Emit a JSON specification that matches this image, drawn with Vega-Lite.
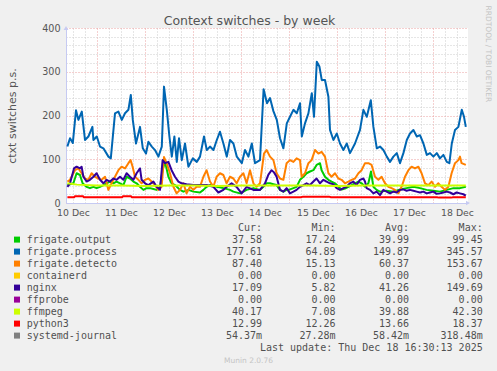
{
"$schema":"https://vega.github.io/schema/vega-lite/v6.json",
"width":402,"height":175,
"autosize":{"type":"none"},
"padding":{"left":66,"top":28,"right":29,"bottom":168},
"background":"#f0f0f0",
"config":{"view":{"fill":"#ffffff","stroke":null},"font":"DejaVu Sans"},
"title":{"text":"Context switches - by week","font":"DejaVu Sans","fontSize":12.5,"fontWeight":"normal","color":"#555555","anchor":"middle","frame":"group","dx":-17.5,"dy":26},
"datasets":{
"series":[
{"s":"frigate.output","h":9.2,"v":41},{"s":"frigate.output","h":12.2,"v":45},{"s":"frigate.output","h":13.8,"v":68},{"s":"frigate.output","h":15.5,"v":64},{"s":"frigate.output","h":16.8,"v":45},{"s":"frigate.output","h":18.8,"v":37},{"s":"frigate.output","h":20.5,"v":34},{"s":"frigate.output","h":22.2,"v":37},{"s":"frigate.output","h":23.8,"v":34},{"s":"frigate.output","h":25.5,"v":37},{"s":"frigate.output","h":27.2,"v":41},{"s":"frigate.output","h":28.8,"v":45},{"s":"frigate.output","h":30.5,"v":49},{"s":"frigate.output","h":32.2,"v":45},{"s":"frigate.output","h":33.8,"v":49},{"s":"frigate.output","h":35.5,"v":45},{"s":"frigate.output","h":37.2,"v":41},{"s":"frigate.output","h":38.8,"v":60},{"s":"frigate.output","h":40.5,"v":56},{"s":"frigate.output","h":42.2,"v":49},{"s":"frigate.output","h":43.8,"v":45},{"s":"frigate.output","h":45.5,"v":37},{"s":"frigate.output","h":47.2,"v":30},{"s":"frigate.output","h":48.8,"v":34},{"s":"frigate.output","h":50.5,"v":34},{"s":"frigate.output","h":52.2,"v":32},{"s":"frigate.output","h":53.8,"v":30},{"s":"frigate.output","h":55.5,"v":37},{"s":"frigate.output","h":56.8,"v":75},{"s":"frigate.output","h":58,"v":95},{"s":"frigate.output","h":59.7,"v":60},{"s":"frigate.output","h":61.3,"v":45},{"s":"frigate.output","h":63,"v":41},{"s":"frigate.output","h":65.5,"v":30},{"s":"frigate.output","h":67.2,"v":26},{"s":"frigate.output","h":69.7,"v":30},{"s":"frigate.output","h":72.2,"v":26},{"s":"frigate.output","h":75.5,"v":24},{"s":"frigate.output","h":77.2,"v":30},{"s":"frigate.output","h":78.8,"v":37},{"s":"frigate.output","h":80.5,"v":41},{"s":"frigate.output","h":83.8,"v":37},{"s":"frigate.output","h":87.2,"v":34},{"s":"frigate.output","h":90.5,"v":30},{"s":"frigate.output","h":92.2,"v":26},{"s":"frigate.output","h":95.5,"v":22},{"s":"frigate.output","h":97.2,"v":26},{"s":"frigate.output","h":98.8,"v":30},{"s":"frigate.output","h":102.2,"v":34},{"s":"frigate.output","h":105.5,"v":30},{"s":"frigate.output","h":107.2,"v":37},{"s":"frigate.output","h":108.8,"v":45},{"s":"frigate.output","h":110.5,"v":45},{"s":"frigate.output","h":112.2,"v":43},{"s":"frigate.output","h":113.8,"v":41},{"s":"frigate.output","h":115.5,"v":30},{"s":"frigate.output","h":117.2,"v":26},{"s":"frigate.output","h":118.8,"v":30},{"s":"frigate.output","h":120.5,"v":31},{"s":"frigate.output","h":122.2,"v":34},{"s":"frigate.output","h":123.8,"v":37},{"s":"frigate.output","h":125.5,"v":53},{"s":"frigate.output","h":127.2,"v":60},{"s":"frigate.output","h":128.8,"v":68},{"s":"frigate.output","h":130.5,"v":72},{"s":"frigate.output","h":132.2,"v":75},{"s":"frigate.output","h":133.8,"v":87},{"s":"frigate.output","h":135.5,"v":91},{"s":"frigate.output","h":136.3,"v":75},{"s":"frigate.output","h":138,"v":60},{"s":"frigate.output","h":139.7,"v":53},{"s":"frigate.output","h":141.3,"v":49},{"s":"frigate.output","h":143,"v":45},{"s":"frigate.output","h":144.7,"v":37},{"s":"frigate.output","h":146.3,"v":31},{"s":"frigate.output","h":148,"v":33},{"s":"frigate.output","h":149.7,"v":37},{"s":"frigate.output","h":151.3,"v":41},{"s":"frigate.output","h":153,"v":45},{"s":"frigate.output","h":154.7,"v":49},{"s":"frigate.output","h":156.3,"v":45},{"s":"frigate.output","h":158,"v":37},{"s":"frigate.output","h":159.7,"v":45},{"s":"frigate.output","h":161,"v":72},{"s":"frigate.output","h":162.2,"v":37},{"s":"frigate.output","h":163.8,"v":30},{"s":"frigate.output","h":165.5,"v":26},{"s":"frigate.output","h":168.8,"v":28},{"s":"frigate.output","h":172.2,"v":26},{"s":"frigate.output","h":175.5,"v":31},{"s":"frigate.output","h":178.8,"v":34},{"s":"frigate.output","h":182.2,"v":37},{"s":"frigate.output","h":185.5,"v":34},{"s":"frigate.output","h":188.8,"v":30},{"s":"frigate.output","h":192.2,"v":28},{"s":"frigate.output","h":195.5,"v":26},{"s":"frigate.output","h":198.8,"v":30},{"s":"frigate.output","h":202.2,"v":34},{"s":"frigate.output","h":205.5,"v":34},{"s":"frigate.output","h":208.4,"v":37},
{"s":"frigate.process","h":9.2,"v":129},{"s":"frigate.process","h":10.5,"v":148},{"s":"frigate.process","h":11.9,"v":137},{"s":"frigate.process","h":13.5,"v":212},{"s":"frigate.process","h":14.7,"v":190},{"s":"frigate.process","h":16.4,"v":209},{"s":"frigate.process","h":18,"v":144},{"s":"frigate.process","h":19.7,"v":152},{"s":"frigate.process","h":21.7,"v":174},{"s":"frigate.process","h":22.2,"v":144},{"s":"frigate.process","h":23.9,"v":152},{"s":"frigate.process","h":25.5,"v":129},{"s":"frigate.process","h":27.2,"v":125},{"s":"frigate.process","h":29.7,"v":106},{"s":"frigate.process","h":30.9,"v":102},{"s":"frigate.process","h":33,"v":205},{"s":"frigate.process","h":34.7,"v":209},{"s":"frigate.process","h":36.4,"v":190},{"s":"frigate.process","h":38,"v":205},{"s":"frigate.process","h":39.7,"v":213},{"s":"frigate.process","h":40.9,"v":247},{"s":"frigate.process","h":41.9,"v":190},{"s":"frigate.process","h":43.5,"v":136},{"s":"frigate.process","h":45.5,"v":174},{"s":"frigate.process","h":46.9,"v":125},{"s":"frigate.process","h":48.5,"v":113},{"s":"frigate.process","h":49.7,"v":140},{"s":"frigate.process","h":51.4,"v":129},{"s":"frigate.process","h":53,"v":121},{"s":"frigate.process","h":54.7,"v":106},{"s":"frigate.process","h":56.4,"v":129},{"s":"frigate.process","h":57.5,"v":266},{"s":"frigate.process","h":58.9,"v":213},{"s":"frigate.process","h":60.2,"v":152},{"s":"frigate.process","h":61.4,"v":106},{"s":"frigate.process","h":62.7,"v":152},{"s":"frigate.process","h":63.9,"v":94},{"s":"frigate.process","h":65,"v":148},{"s":"frigate.process","h":66.4,"v":98},{"s":"frigate.process","h":68,"v":136},{"s":"frigate.process","h":69.7,"v":83},{"s":"frigate.process","h":71.9,"v":102},{"s":"frigate.process","h":73.9,"v":94},{"s":"frigate.process","h":75.5,"v":106},{"s":"frigate.process","h":77.5,"v":152},{"s":"frigate.process","h":78.9,"v":121},{"s":"frigate.process","h":80.5,"v":129},{"s":"frigate.process","h":82.2,"v":121},{"s":"frigate.process","h":83.9,"v":144},{"s":"frigate.process","h":85.5,"v":163},{"s":"frigate.process","h":87.2,"v":136},{"s":"frigate.process","h":88.9,"v":106},{"s":"frigate.process","h":90.5,"v":144},{"s":"frigate.process","h":92.2,"v":136},{"s":"frigate.process","h":93.9,"v":106},{"s":"frigate.process","h":96.4,"v":91},{"s":"frigate.process","h":98,"v":121},{"s":"frigate.process","h":99.7,"v":106},{"s":"frigate.process","h":101.4,"v":136},{"s":"frigate.process","h":103,"v":91},{"s":"frigate.process","h":105.5,"v":98},{"s":"frigate.process","h":107.3,"v":260},{"s":"frigate.process","h":109,"v":228},{"s":"frigate.process","h":110.5,"v":240},{"s":"frigate.process","h":112.2,"v":210},{"s":"frigate.process","h":113.9,"v":190},{"s":"frigate.process","h":115.5,"v":148},{"s":"frigate.process","h":117.2,"v":125},{"s":"frigate.process","h":118.9,"v":182},{"s":"frigate.process","h":120.5,"v":197},{"s":"frigate.process","h":122.2,"v":213},{"s":"frigate.process","h":123.9,"v":205},{"s":"frigate.process","h":125.5,"v":228},{"s":"frigate.process","h":126.4,"v":152},{"s":"frigate.process","h":128,"v":182},{"s":"frigate.process","h":129.7,"v":205},{"s":"frigate.process","h":131.4,"v":251},{"s":"frigate.process","h":132.5,"v":197},{"s":"frigate.process","h":133.9,"v":323},{"s":"frigate.process","h":135.2,"v":312},{"s":"frigate.process","h":136.4,"v":281},{"s":"frigate.process","h":138,"v":281},{"s":"frigate.process","h":139.7,"v":243},{"s":"frigate.process","h":140.5,"v":167},{"s":"frigate.process","h":142.2,"v":144},{"s":"frigate.process","h":143.9,"v":159},{"s":"frigate.process","h":145.5,"v":136},{"s":"frigate.process","h":147.2,"v":121},{"s":"frigate.process","h":148.9,"v":136},{"s":"frigate.process","h":150.5,"v":114},{"s":"frigate.process","h":153,"v":136},{"s":"frigate.process","h":155.5,"v":167},{"s":"frigate.process","h":157.2,"v":213},{"s":"frigate.process","h":158.9,"v":197},{"s":"frigate.process","h":160.9,"v":235},{"s":"frigate.process","h":162.2,"v":174},{"s":"frigate.process","h":163.9,"v":125},{"s":"frigate.process","h":165.5,"v":129},{"s":"frigate.process","h":167.2,"v":121},{"s":"frigate.process","h":168.9,"v":106},{"s":"frigate.process","h":170.5,"v":94},{"s":"frigate.process","h":172.2,"v":106},{"s":"frigate.process","h":173.9,"v":114},{"s":"frigate.process","h":175.5,"v":91},{"s":"frigate.process","h":177.2,"v":114},{"s":"frigate.process","h":178.9,"v":144},{"s":"frigate.process","h":180.5,"v":159},{"s":"frigate.process","h":182.2,"v":167},{"s":"frigate.process","h":183.9,"v":152},{"s":"frigate.process","h":185.5,"v":155},{"s":"frigate.process","h":187.2,"v":136},{"s":"frigate.process","h":188.9,"v":110},{"s":"frigate.process","h":190.5,"v":114},{"s":"frigate.process","h":192.2,"v":106},{"s":"frigate.process","h":193.9,"v":114},{"s":"frigate.process","h":195.5,"v":102},{"s":"frigate.process","h":197.2,"v":110},{"s":"frigate.process","h":198.9,"v":94},{"s":"frigate.process","h":200.2,"v":91},{"s":"frigate.process","h":201.4,"v":136},{"s":"frigate.process","h":203,"v":167},{"s":"frigate.process","h":204.7,"v":174},{"s":"frigate.process","h":206.4,"v":213},{"s":"frigate.process","h":207.5,"v":197},{"s":"frigate.process","h":208.4,"v":174},
{"s":"frigate.detecto","h":9.2,"v":49},{"s":"frigate.detecto","h":10.5,"v":53},{"s":"frigate.detecto","h":13,"v":75},{"s":"frigate.detecto","h":14.7,"v":79},{"s":"frigate.detecto","h":16.3,"v":68},{"s":"frigate.detecto","h":18,"v":56},{"s":"frigate.detecto","h":19.7,"v":53},{"s":"frigate.detecto","h":21.3,"v":68},{"s":"frigate.detecto","h":23,"v":60},{"s":"frigate.detecto","h":24.7,"v":56},{"s":"frigate.detecto","h":26.3,"v":53},{"s":"frigate.detecto","h":28,"v":60},{"s":"frigate.detecto","h":29.7,"v":30},{"s":"frigate.detecto","h":31.3,"v":45},{"s":"frigate.detecto","h":33,"v":60},{"s":"frigate.detecto","h":34.7,"v":75},{"s":"frigate.detecto","h":36.3,"v":83},{"s":"frigate.detecto","h":38,"v":79},{"s":"frigate.detecto","h":39.7,"v":91},{"s":"frigate.detecto","h":40.8,"v":98},{"s":"frigate.detecto","h":41.8,"v":83},{"s":"frigate.detecto","h":43,"v":60},{"s":"frigate.detecto","h":44.7,"v":53},{"s":"frigate.detecto","h":46.3,"v":45},{"s":"frigate.detecto","h":48,"v":53},{"s":"frigate.detecto","h":49.7,"v":56},{"s":"frigate.detecto","h":51.3,"v":49},{"s":"frigate.detecto","h":53,"v":41},{"s":"frigate.detecto","h":54.7,"v":30},{"s":"frigate.detecto","h":56.3,"v":37},{"s":"frigate.detecto","h":57.5,"v":105},{"s":"frigate.detecto","h":58.8,"v":91},{"s":"frigate.detecto","h":60.5,"v":68},{"s":"frigate.detecto","h":62.2,"v":37},{"s":"frigate.detecto","h":63.8,"v":22},{"s":"frigate.detecto","h":65.5,"v":30},{"s":"frigate.detecto","h":67.2,"v":45},{"s":"frigate.detecto","h":68.8,"v":22},{"s":"frigate.detecto","h":70.5,"v":37},{"s":"frigate.detecto","h":72.2,"v":30},{"s":"frigate.detecto","h":73.8,"v":37},{"s":"frigate.detecto","h":75.5,"v":37},{"s":"frigate.detecto","h":77.2,"v":60},{"s":"frigate.detecto","h":78.8,"v":75},{"s":"frigate.detecto","h":80.5,"v":49},{"s":"frigate.detecto","h":82.2,"v":37},{"s":"frigate.detecto","h":83.8,"v":60},{"s":"frigate.detecto","h":85.5,"v":68},{"s":"frigate.detecto","h":87.2,"v":64},{"s":"frigate.detecto","h":88.8,"v":45},{"s":"frigate.detecto","h":90.5,"v":60},{"s":"frigate.detecto","h":92.2,"v":56},{"s":"frigate.detecto","h":93.8,"v":45},{"s":"frigate.detecto","h":95.5,"v":60},{"s":"frigate.detecto","h":97.2,"v":68},{"s":"frigate.detecto","h":98.8,"v":45},{"s":"frigate.detecto","h":100.5,"v":75},{"s":"frigate.detecto","h":102.2,"v":45},{"s":"frigate.detecto","h":103.8,"v":37},{"s":"frigate.detecto","h":105.5,"v":45},{"s":"frigate.detecto","h":107.5,"v":113},{"s":"frigate.detecto","h":108.8,"v":121},{"s":"frigate.detecto","h":110.5,"v":106},{"s":"frigate.detecto","h":112.2,"v":98},{"s":"frigate.detecto","h":113.8,"v":68},{"s":"frigate.detecto","h":115.5,"v":56},{"s":"frigate.detecto","h":117.2,"v":53},{"s":"frigate.detecto","h":118.8,"v":91},{"s":"frigate.detecto","h":120.5,"v":98},{"s":"frigate.detecto","h":122.2,"v":94},{"s":"frigate.detecto","h":123.8,"v":102},{"s":"frigate.detecto","h":125.5,"v":98},{"s":"frigate.detecto","h":126.3,"v":60},{"s":"frigate.detecto","h":128,"v":68},{"s":"frigate.detecto","h":129.7,"v":91},{"s":"frigate.detecto","h":131.3,"v":98},{"s":"frigate.detecto","h":133,"v":121},{"s":"frigate.detecto","h":134.7,"v":113},{"s":"frigate.detecto","h":136.3,"v":117},{"s":"frigate.detecto","h":138,"v":106},{"s":"frigate.detecto","h":139.7,"v":68},{"s":"frigate.detecto","h":141.3,"v":60},{"s":"frigate.detecto","h":143,"v":68},{"s":"frigate.detecto","h":144.7,"v":56},{"s":"frigate.detecto","h":146.3,"v":53},{"s":"frigate.detecto","h":148,"v":45},{"s":"frigate.detecto","h":149.7,"v":49},{"s":"frigate.detecto","h":151.3,"v":53},{"s":"frigate.detecto","h":153,"v":56},{"s":"frigate.detecto","h":154.7,"v":68},{"s":"frigate.detecto","h":156.3,"v":75},{"s":"frigate.detecto","h":158,"v":91},{"s":"frigate.detecto","h":159.7,"v":91},{"s":"frigate.detecto","h":161.3,"v":87},{"s":"frigate.detecto","h":163,"v":60},{"s":"frigate.detecto","h":164.7,"v":53},{"s":"frigate.detecto","h":166.3,"v":60},{"s":"frigate.detecto","h":168,"v":45},{"s":"frigate.detecto","h":169.7,"v":37},{"s":"frigate.detecto","h":171.3,"v":34},{"s":"frigate.detecto","h":173,"v":30},{"s":"frigate.detecto","h":174.7,"v":22},{"s":"frigate.detecto","h":176.3,"v":37},{"s":"frigate.detecto","h":178,"v":60},{"s":"frigate.detecto","h":179.7,"v":75},{"s":"frigate.detecto","h":181.3,"v":83},{"s":"frigate.detecto","h":183,"v":79},{"s":"frigate.detecto","h":184.7,"v":83},{"s":"frigate.detecto","h":186.3,"v":68},{"s":"frigate.detecto","h":188,"v":45},{"s":"frigate.detecto","h":189.7,"v":41},{"s":"frigate.detecto","h":191.3,"v":49},{"s":"frigate.detecto","h":193,"v":37},{"s":"frigate.detecto","h":194.7,"v":45},{"s":"frigate.detecto","h":196.3,"v":37},{"s":"frigate.detecto","h":198,"v":30},{"s":"frigate.detecto","h":199.7,"v":37},{"s":"frigate.detecto","h":201.3,"v":68},{"s":"frigate.detecto","h":203,"v":91},{"s":"frigate.detecto","h":204.7,"v":98},{"s":"frigate.detecto","h":205.5,"v":106},{"s":"frigate.detecto","h":206.3,"v":91},{"s":"frigate.detecto","h":208.4,"v":87},
{"s":"nginx","h":9.2,"v":37},{"s":"nginx","h":10.5,"v":45},{"s":"nginx","h":12.5,"v":79},{"s":"nginx","h":13.8,"v":83},{"s":"nginx","h":15.5,"v":79},{"s":"nginx","h":16.3,"v":83},{"s":"nginx","h":17.2,"v":60},{"s":"nginx","h":18.8,"v":49},{"s":"nginx","h":20.5,"v":53},{"s":"nginx","h":22.2,"v":60},{"s":"nginx","h":23.8,"v":68},{"s":"nginx","h":25.5,"v":53},{"s":"nginx","h":27.2,"v":45},{"s":"nginx","h":28.8,"v":53},{"s":"nginx","h":30.5,"v":49},{"s":"nginx","h":32.2,"v":56},{"s":"nginx","h":33.8,"v":53},{"s":"nginx","h":35.5,"v":60},{"s":"nginx","h":37.2,"v":53},{"s":"nginx","h":38.8,"v":68},{"s":"nginx","h":40.5,"v":60},{"s":"nginx","h":42.2,"v":53},{"s":"nginx","h":43.8,"v":68},{"s":"nginx","h":45.5,"v":79},{"s":"nginx","h":46.3,"v":53},{"s":"nginx","h":48,"v":45},{"s":"nginx","h":49.7,"v":41},{"s":"nginx","h":52.2,"v":49},{"s":"nginx","h":53.8,"v":37},{"s":"nginx","h":55.5,"v":30},{"s":"nginx","h":56.8,"v":98},{"s":"nginx","h":58,"v":91},{"s":"nginx","h":59.7,"v":94},{"s":"nginx","h":61.3,"v":75},{"s":"nginx","h":63,"v":60},{"s":"nginx","h":64.7,"v":49},{"s":"nginx","h":66.3,"v":45},{"s":"nginx","h":68.8,"v":43},{"s":"nginx","h":72.2,"v":41},{"s":"nginx","h":75.5,"v":41},{"s":"nginx","h":78.8,"v":41},{"s":"nginx","h":82.2,"v":37},{"s":"nginx","h":84.7,"v":24},{"s":"nginx","h":87.2,"v":30},{"s":"nginx","h":88.8,"v":37},{"s":"nginx","h":91.3,"v":45},{"s":"nginx","h":93.8,"v":37},{"s":"nginx","h":96.3,"v":22},{"s":"nginx","h":98.8,"v":37},{"s":"nginx","h":102.2,"v":30},{"s":"nginx","h":105.5,"v":30},{"s":"nginx","h":108,"v":45},{"s":"nginx","h":109.7,"v":65},{"s":"nginx","h":111.3,"v":75},{"s":"nginx","h":112.5,"v":70},{"s":"nginx","h":113.8,"v":60},{"s":"nginx","h":115.5,"v":30},{"s":"nginx","h":117.2,"v":26},{"s":"nginx","h":118.8,"v":34},{"s":"nginx","h":120.5,"v":22},{"s":"nginx","h":122.2,"v":26},{"s":"nginx","h":123.8,"v":30},{"s":"nginx","h":125.5,"v":37},{"s":"nginx","h":127.2,"v":41},{"s":"nginx","h":128.8,"v":45},{"s":"nginx","h":130.5,"v":41},{"s":"nginx","h":132.2,"v":49},{"s":"nginx","h":133.8,"v":56},{"s":"nginx","h":135.5,"v":45},{"s":"nginx","h":137.2,"v":53},{"s":"nginx","h":138.8,"v":49},{"s":"nginx","h":140.5,"v":45},{"s":"nginx","h":142.2,"v":43},{"s":"nginx","h":143.8,"v":34},{"s":"nginx","h":145.5,"v":30},{"s":"nginx","h":147.2,"v":34},{"s":"nginx","h":148.8,"v":37},{"s":"nginx","h":150.5,"v":45},{"s":"nginx","h":152.2,"v":49},{"s":"nginx","h":153.8,"v":41},{"s":"nginx","h":155.5,"v":53},{"s":"nginx","h":157.2,"v":56},{"s":"nginx","h":158,"v":49},{"s":"nginx","h":158.8,"v":34},{"s":"nginx","h":160.5,"v":30},{"s":"nginx","h":162.2,"v":22},{"s":"nginx","h":163.8,"v":26},{"s":"nginx","h":165.5,"v":18},{"s":"nginx","h":167.2,"v":30},{"s":"nginx","h":168.8,"v":26},{"s":"nginx","h":170.5,"v":22},{"s":"nginx","h":172.2,"v":26},{"s":"nginx","h":173.8,"v":24},{"s":"nginx","h":175.5,"v":30},{"s":"nginx","h":177.2,"v":31},{"s":"nginx","h":178.8,"v":28},{"s":"nginx","h":180.5,"v":30},{"s":"nginx","h":182.2,"v":28},{"s":"nginx","h":183.8,"v":26},{"s":"nginx","h":185.5,"v":24},{"s":"nginx","h":187.2,"v":26},{"s":"nginx","h":188.8,"v":22},{"s":"nginx","h":190.5,"v":24},{"s":"nginx","h":192.2,"v":26},{"s":"nginx","h":193.8,"v":21},{"s":"nginx","h":195.5,"v":22},{"s":"nginx","h":197.2,"v":24},{"s":"nginx","h":198.8,"v":26},{"s":"nginx","h":200.5,"v":24},{"s":"nginx","h":202.2,"v":20},{"s":"nginx","h":203.8,"v":24},{"s":"nginx","h":205.5,"v":22},{"s":"nginx","h":207.2,"v":20},{"s":"nginx","h":208.4,"v":17},
{"s":"ffmpeg","h":9.2,"v":45},{"s":"ffmpeg","h":14,"v":42},{"s":"ffmpeg","h":24,"v":40},{"s":"ffmpeg","h":36,"v":40},{"s":"ffmpeg","h":48,"v":39},{"s":"ffmpeg","h":60,"v":40},{"s":"ffmpeg","h":72,"v":40},{"s":"ffmpeg","h":84,"v":39},{"s":"ffmpeg","h":96,"v":40},{"s":"ffmpeg","h":108,"v":40},{"s":"ffmpeg","h":120,"v":40},{"s":"ffmpeg","h":132,"v":40},{"s":"ffmpeg","h":144,"v":39},{"s":"ffmpeg","h":156,"v":40},{"s":"ffmpeg","h":168,"v":40},{"s":"ffmpeg","h":180,"v":40},{"s":"ffmpeg","h":192,"v":40},{"s":"ffmpeg","h":204,"v":40},{"s":"ffmpeg","h":208.4,"v":40},
{"s":"python3","h":9.2,"v":13},{"s":"python3","h":12.5,"v":13},{"s":"python3","h":13,"v":15.5},{"s":"python3","h":17,"v":15.5},{"s":"python3","h":17.5,"v":13},{"s":"python3","h":36.5,"v":13},{"s":"python3","h":37,"v":15.5},{"s":"python3","h":41,"v":15.5},{"s":"python3","h":41.5,"v":13},{"s":"python3","h":126,"v":13},{"s":"python3","h":127,"v":14.5},{"s":"python3","h":140,"v":14.5},{"s":"python3","h":141,"v":13},{"s":"python3","h":194,"v":13},{"s":"python3","h":195,"v":12.3},{"s":"python3","h":201,"v":12.3},{"s":"python3","h":202,"v":13},{"s":"python3","h":208.4,"v":13}
],
"legend":[
{"name":"frigate.output","cur":"37.58 ","min":"17.24 ","avg":"39.99 ","max":"99.45 "},
{"name":"frigate.process","cur":"177.61 ","min":"64.89 ","avg":"149.87 ","max":"345.57 "},
{"name":"frigate.detecto","cur":"87.40 ","min":"15.13 ","avg":"60.37 ","max":"153.67 "},
{"name":"containerd","cur":"0.00 ","min":"0.00 ","avg":"0.00 ","max":"0.00 "},
{"name":"nginx","cur":"17.09 ","min":"5.82 ","avg":"41.26 ","max":"149.69 "},
{"name":"ffprobe","cur":"0.00 ","min":"0.00 ","avg":"0.00 ","max":"0.00 "},
{"name":"ffmpeg","cur":"40.17 ","min":"7.08 ","avg":"39.88 ","max":"42.30 "},
{"name":"python3","cur":"12.99 ","min":"12.26 ","avg":"13.66 ","max":"18.37 "},
{"name":"systemd-journal","cur":"54.37m","min":"27.28m","avg":"58.42m","max":"318.48m"}
],
"arrows":[{"axis":"y","h":8.5,"v":400},{"axis":"x","h":209.5,"v":0}]
},
"layer":[
{
"data":{"name":"series"},
"mark":{"type":"line","strokeWidth":2,"strokeJoin":"round","clip":true},
"encoding":{
"x":{"field":"h","type":"quantitative","scale":{"domain":[8.5,209.5],"nice":false,"zero":false},
"axis":{"orient":"bottom","values":[12,18,24,30,36,42,48,54,60,66,72,78,84,90,96,102,108,114,120,126,132,138,144,150,156,162,168,174,180,186,192,198,204],
"grid":true,"gridColor":{"condition":{"test":"datum.value % 24 === 0","value":"#eaa0a0"},"value":"#cccccc"},"gridDash":[1,2],
"ticks":false,"tickSize":0,"domainColor":"#c6caf2",
"labelExpr":"datum.value % 24 === 12 ? (10 + floor(datum.value / 24)) + ' Dec' : ''",
"labelOverlap":false,"labelFlush":false,"labelFont":"DejaVu Sans","labelFontSize":9.3,"labelColor":"#555555","labelPadding":5,
"title":"Munin 2.0.76","titleFont":"DejaVu Sans","titleFontSize":7.5,"titleFontWeight":"normal","titleColor":"#c4c4c4","titleX":182,"titleY":157.3,"titleAlign":"center","titleBaseline":"middle","titleAngle":0}},
"y":{"field":"v","type":"quantitative","scale":{"domain":[0,400],"nice":false},
"axis":{"orient":"left","values":[0,20,40,60,80,100,120,140,160,180,200,220,240,260,280,300,320,340,360,380,400],
"grid":true,"gridColor":{"condition":{"test":"datum.value % 100 === 0","value":"#eaa0a0"},"value":"#cccccc"},"gridDash":[1,2],
"ticks":false,"tickSize":0,"domainColor":"#c6caf2",
"labelExpr":"datum.value % 100 === 0 ? datum.label : ''",
"labelOverlap":false,"labelFlush":false,"labelFont":"DejaVu Sans","labelFontSize":9.6,"labelColor":"#555555","labelPadding":6,
"title":"ctxt switches p.s.","titleFont":"DejaVu Sans","titleFontSize":11,"titleFontWeight":"normal","titleColor":"#555555","titleX":-54,"titleY":87.5,"titleAngle":-90,"titleAlign":"center","titleBaseline":"middle"}},
"color":{"field":"s","type":"nominal","legend":null,
"scale":{"domain":["frigate.output","frigate.process","frigate.detecto","containerd","nginx","ffprobe","ffmpeg","python3","systemd-journal"],
"range":["#00cc00","#0066b3","#ff8000","#ffcc00","#330099","#990099","#ccff00","#ff0000","#808080"]}}
}
},
{
"data":{"name":"arrows"},
"mark":{"type":"point","filled":true,"size":22,"color":"#c6caf2","opacity":1},
"encoding":{
"x":{"field":"h","type":"quantitative","scale":{"domain":[8.5,209.5],"nice":false,"zero":false},"axis":null},
"y":{"field":"v","type":"quantitative","scale":{"domain":[0,400],"nice":false},"axis":null},
"shape":{"field":"axis","type":"nominal","scale":{"domain":["y","x"],"range":["triangle-up","triangle-right"]},"legend":null},
"xOffset":{"field":"axis","type":"nominal","scale":{"domain":["y","x"],"range":[0,3]}},
"yOffset":{"field":"axis","type":"nominal","scale":{"domain":["y","x"],"range":[-4,0]}}
}
},
{
"data":{"name":"legend"},
"mark":{"type":"square","size":36,"filled":true,"opacity":1},
"encoding":{
"x":{"datum":"sw","type":"nominal","scale":{"type":"point","domain":["sw","name"],"range":[-49,-39.3],"padding":0},"axis":null},
"y":{"field":"name","type":"nominal","scale":{"type":"point","domain":["_hdr","frigate.output","frigate.process","frigate.detecto","containerd","nginx","ffprobe","ffmpeg","python3","systemd-journal","_upd"],"range":[199.6,319.6],"padding":0},
"axis":{"orient":"right","labels":false,"ticks":false,"domain":false,"grid":false,"title":"RRDTOOL / TOBI OETIKER","titleFont":"DejaVu Sans","titleFontSize":7.5,"titleFontWeight":"normal","titleColor":"#c4c4c4","titleX":19.3,"titleY":25.3,"titleAngle":90,"titleAlign":"center","titleBaseline":"middle"}},
"color":{"field":"name","type":"nominal","legend":null,
"scale":{"domain":["frigate.output","frigate.process","frigate.detecto","containerd","nginx","ffprobe","ffmpeg","python3","systemd-journal"],
"range":["#00cc00","#0066b3","#ff8000","#ffcc00","#330099","#990099","#ccff00","#ff0000","#808080"]}}
}
},
{
"data":{"name":"legend"},
"mark":{"type":"text","align":"left","baseline":"middle","font":"DejaVu Sans Mono","fontSize":10,"color":"#505050"},
"encoding":{
"x":{"datum":"name","type":"nominal","scale":{"type":"point","domain":["sw","name"],"range":[-49,-39.3],"padding":0},"axis":null},
"y":{"field":"name","type":"nominal","scale":{"type":"point","domain":["_hdr","frigate.output","frigate.process","frigate.detecto","containerd","nginx","ffprobe","ffmpeg","python3","systemd-journal","_upd"],"range":[199.6,319.6],"padding":0},"axis":null},
"text":{"field":"name"}
}
},
{
"data":{"name":"legend"},
"transform":[{"fold":["cur","min","avg","max"],"as":["stat","val"]}],
"mark":{"type":"text","align":"right","baseline":"middle","font":"DejaVu Sans Mono","fontSize":10,"color":"#505050"},
"encoding":{
"x":{"field":"stat","type":"nominal","scale":{"type":"point","domain":["cur","min","avg","max"],"range":[196,416.7],"padding":0},"axis":null},
"y":{"field":"name","type":"nominal","scale":{"type":"point","domain":["_hdr","frigate.output","frigate.process","frigate.detecto","containerd","nginx","ffprobe","ffmpeg","python3","systemd-journal","_upd"],"range":[199.6,319.6],"padding":0},"axis":null},
"text":{"field":"val"}
}
},
{
"data":{"values":[{"stat":"cur","label":"Cur:  "},{"stat":"min","label":"Min:  "},{"stat":"avg","label":"Avg:  "},{"stat":"max","label":"Max:  "}]},
"mark":{"type":"text","align":"right","baseline":"middle","font":"DejaVu Sans Mono","fontSize":10,"color":"#505050"},
"encoding":{
"x":{"field":"stat","type":"nominal","scale":{"type":"point","domain":["cur","min","avg","max"],"range":[196,416.7],"padding":0},"axis":null},
"y":{"datum":"_hdr","type":"nominal","scale":{"type":"point","domain":["_hdr","frigate.output","frigate.process","frigate.detecto","containerd","nginx","ffprobe","ffmpeg","python3","systemd-journal","_upd"],"range":[199.6,319.6],"padding":0},"axis":null},
"text":{"field":"label"}
}
},
{
"data":{"values":[{"stat":"max","t":"Last update: Thu Dec 18 16:30:13 2025"}]},
"mark":{"type":"text","align":"right","baseline":"middle","font":"DejaVu Sans Mono","fontSize":10,"color":"#505050"},
"encoding":{
"x":{"field":"stat","type":"nominal","scale":{"type":"point","domain":["cur","min","avg","max"],"range":[196,416.7],"padding":0},"axis":null},
"y":{"datum":"_upd","type":"nominal","scale":{"type":"point","domain":["_hdr","frigate.output","frigate.process","frigate.detecto","containerd","nginx","ffprobe","ffmpeg","python3","systemd-journal","_upd"],"range":[199.6,319.6],"padding":0},"axis":null},
"text":{"field":"t"}
}
}
],
"resolve":{"scale":{"x":"independent","y":"independent","color":"independent","shape":"independent","xOffset":"independent","yOffset":"independent"}}
}
